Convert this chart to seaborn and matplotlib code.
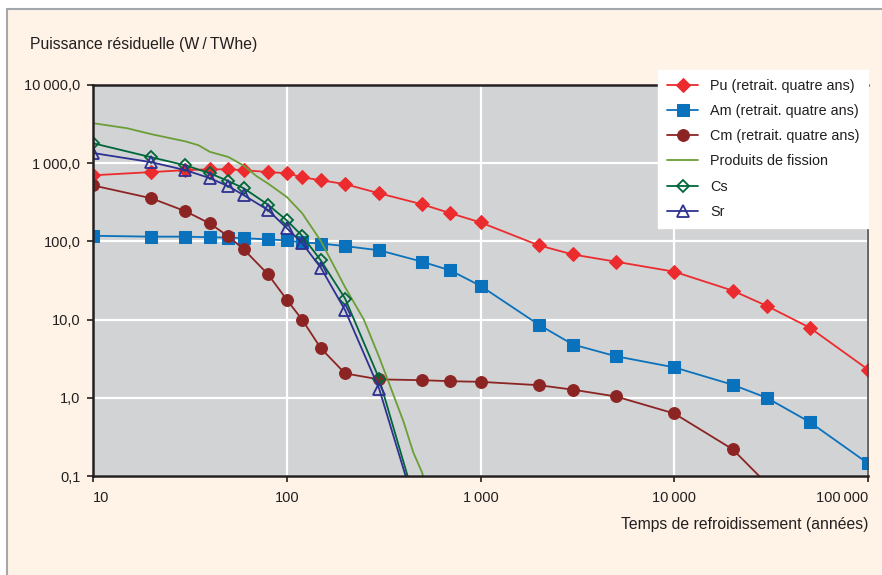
import matplotlib
matplotlib.use("Agg")
import matplotlib.pyplot as plt
from matplotlib.patches import Rectangle
from matplotlib.ticker import NullLocator
import seaborn as sns

# temps de refroidissement (années) / puissance résiduelle (W/TWhe)
pu_t = [10, 20, 30, 40, 50, 60, 80, 100, 120, 150, 200, 300, 500, 700, 1000,
        2000, 3000, 5000, 10000, 20000, 30000, 50000, 100000]
pu_w = [700, 770, 815, 835, 835, 815, 770, 745, 660, 605, 540, 412, 298, 229, 175,
        89, 68, 55, 41, 23.5, 15, 7.9, 2.3]

am_t = [10, 20, 30, 40, 50, 60, 80, 100, 120, 150, 200, 300, 500, 700, 1000,
        2000, 3000, 5000, 10000, 20000, 30000, 50000, 100000]
am_w = [118, 115, 115, 113, 112, 110, 106, 103, 97, 94, 87, 77, 55, 42.5, 27,
        8.6, 4.8, 3.4, 2.45, 1.47, 1.0, 0.49, 0.145]

cm_t = [10, 20, 30, 40, 50, 60, 80, 100, 120, 150, 200, 300, 500, 700, 1000,
        2000, 3000, 5000, 10000, 20000, 30000]
cm_w = [520, 356, 243, 170, 116, 79, 38, 18, 10, 4.3, 2.05, 1.72, 1.68, 1.63, 1.6,
        1.45, 1.27, 1.04, 0.63, 0.22, 0.08]

pf_t = [10, 15, 20, 30, 35, 40, 50, 60, 70, 80, 100, 120, 150, 200, 250, 300,
        400, 450, 500, 600]
pf_w = [3250, 2800, 2350, 1900, 1700, 1400, 1200, 930, 680, 550, 370, 230, 101,
        26, 10, 3.3, 0.5, 0.2, 0.11, 0.02]

cs_t = [10, 20, 30, 40, 50, 60, 80, 100, 120, 150, 200, 300, 500]
cs_w = [1800, 1190, 940, 745, 590, 478, 295, 186, 118, 57, 18.6, 1.75, 0.023]

sr_t = [10, 20, 30, 40, 50, 60, 80, 100, 120, 150, 200, 300, 500]
sr_w = [1350, 1030, 815, 645, 507, 390, 252, 148, 95, 46, 13.2, 1.3, 0.02]

x_ticks = [10, 100, 1000, 10000, 100000]
x_labels = ["10", "100", "1\u2009000", "10\u2009000", "100\u2009000"]
y_ticks = [0.1, 1, 10, 100, 1000, 10000]
y_labels = ["0,1", "1,0", "10,0", "100,0", "1\u2009000,0", "10\u2009000,0"]

sns.set_style("whitegrid")
plt.rcParams['font.family'] = ['Liberation Sans', 'DejaVu Sans']

W, H = 882, 575
fig = plt.figure(figsize=(W / 100, H / 100), dpi=100, facecolor="white")
fig.patches.append(Rectangle((7 / W, -0.1), 1.2, 1 - 9 / H + 0.1, transform=fig.transFigure,
                             facecolor="#fef3e6", edgecolor="#a3a8ad", lw=1.5, zorder=-10))

ax = fig.add_axes([93 / W, 1 - 476 / H, (868 - 93) / W, (476 - 85) / H])
ax.set_facecolor("#d1d3d4")

lw = 1.3
sns.lineplot(x=pu_t, y=pu_w, ax=ax, color="#ec2b2f", lw=lw, marker="D", markersize=7,
             markeredgecolor="#ec2b2f", label="Pu (retrait. quatre ans)")
sns.lineplot(x=am_t, y=am_w, ax=ax, color="#0a72bd", lw=lw, marker="s", markersize=8,
             markeredgecolor="#0a72bd", label="Am (retrait. quatre ans)")
sns.lineplot(x=cm_t, y=cm_w, ax=ax, color="#8d2424", lw=lw, marker="o", markersize=8.5,
             markeredgecolor="#8d2424", label="Cm (retrait. quatre ans)")
sns.lineplot(x=pf_t, y=pf_w, ax=ax, color="#6b9e36", lw=lw, label="Produits de fission")
sns.lineplot(x=cs_t, y=cs_w, ax=ax, color="#00663a", lw=lw, marker="D", markersize=6.5,
             markerfacecolor="none", markeredgecolor="#00663a", markeredgewidth=1.3, label="Cs")
sns.lineplot(x=sr_t, y=sr_w, ax=ax, color="#2e3192", lw=lw, marker="^", markersize=8,
             markerfacecolor="none", markeredgecolor="#2e3192", markeredgewidth=1.3, label="Sr")

ax.set_xscale("log")
ax.set_yscale("log")
ax.set_xlim(10, 100000)
ax.set_ylim(0.1, 10000)
ax.set_xticks(x_ticks)
ax.set_xticklabels(x_labels)
ax.set_yticks(y_ticks)
ax.set_yticklabels(y_labels)
ax.xaxis.set_minor_locator(NullLocator())
ax.yaxis.set_minor_locator(NullLocator())
ax.set_xlabel("")
ax.set_ylabel("")

# first and last x labels kept inside the plot width, as in the original
xl = ax.get_xticklabels()
xl[0].set_horizontalalignment("left")
xl[-1].set_horizontalalignment("right")

ax.grid(True, which="major", color="white", lw=1.6)
ax.set_axisbelow(True)
for side in ["left", "bottom", "top"]:
    ax.spines[side].set_color("#231f20")
    ax.spines[side].set_linewidth(1.8)
ax.spines["right"].set_color("#4d4d4f")
ax.spines["right"].set_linewidth(1.2)
ax.tick_params(axis="both", which="major", direction="out", length=4, width=1.2,
               color="#231f20", labelcolor="#231f20", labelsize=10.5,
               bottom=True, left=True)
ax.tick_params(axis="x", pad=7)
ax.tick_params(axis="y", pad=5)

fig.text(30 / W, 1 - 44 / H, "Puissance résiduelle (W\u2009/\u2009TWhe)", ha="left",
         va="center", fontsize=11.3, color="#231f20")
fig.text(868 / W, 1 - 525 / H, "Temps de refroidissement (années)", ha="right",
         va="center", fontsize=11.3, color="#231f20")

leg = ax.legend(loc="upper left", bbox_to_anchor=(658 / W, 1 - 70 / H),
                bbox_transform=fig.transFigure, frameon=True, fancybox=False,
                facecolor="white", edgecolor="white", framealpha=1, fontsize=10.4,
                labelspacing=0.78, handlelength=2.2, handletextpad=0.8,
                borderpad=0.6, borderaxespad=0)
for t in leg.get_texts():
    t.set_color("#231f20")

fig.savefig("out.png", dpi=100)
